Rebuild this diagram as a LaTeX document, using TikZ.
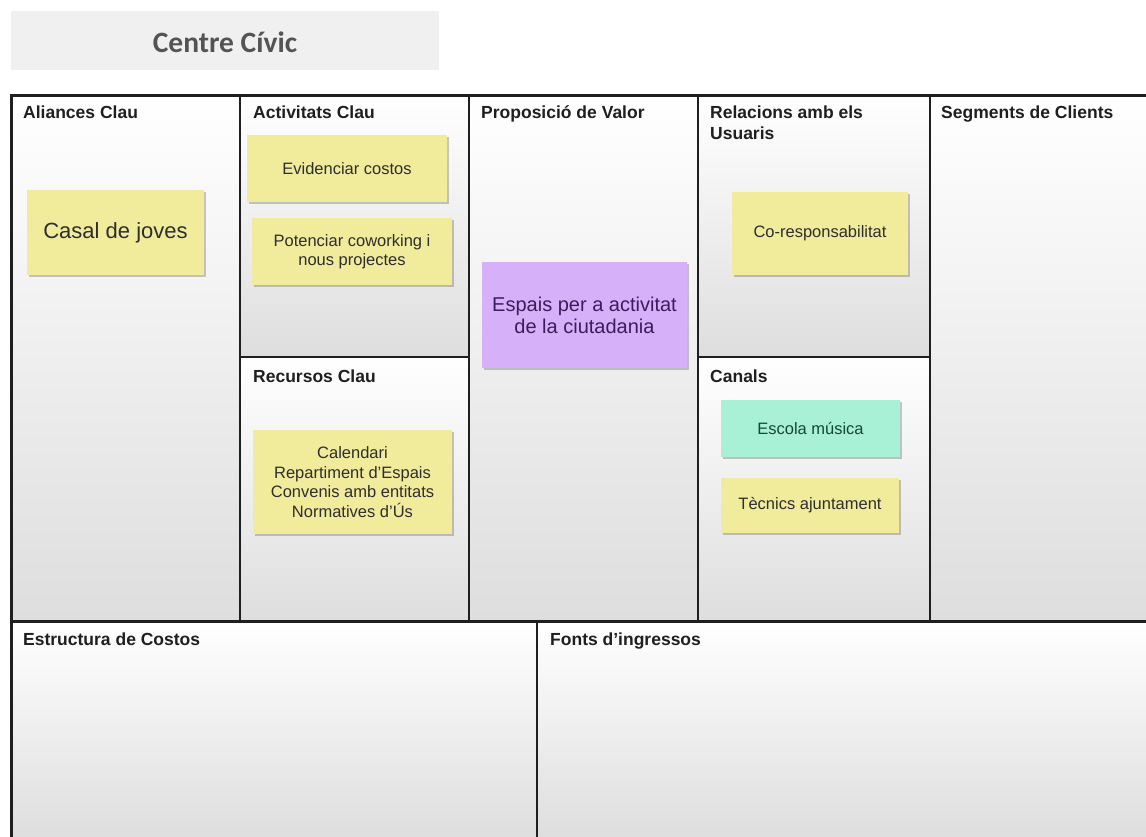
\documentclass[tikz,border=0pt]{standalone}
\usepackage{fontspec}
\setmainfont{Liberation Sans}
\newfontfamily\titlefont{Carlito}
\usetikzlibrary{shadows}

\definecolor{noteyellow}{RGB}{241,235,156}
\definecolor{notepurple}{RGB}{214,177,250}
\definecolor{notemint}{RGB}{168,240,214}
\definecolor{purpletext}{RGB}{62,28,92}
\definecolor{minttext}{RGB}{22,72,52}
\definecolor{titlegray}{RGB}{240,240,240}

\tikzset{
  cell/.style={top color=white, bottom color=black!13},
  frame/.style={draw=black!88, line width=2pt},
  heading/.style={anchor=base west, inner sep=0pt, align=left, text=black!88,
    font=\fontsize{17.5}{21}\selectfont\bfseries},
  note/.style={fill=noteyellow, align=center, inner sep=0pt, text=black!82,
    font=\fontsize{16.5}{19.5}\selectfont,
    drop shadow={shadow xshift=1.5pt, shadow yshift=-2pt, opacity=0.3, fill=black!70}},
}

\begin{document}
\begin{tikzpicture}[x=1pt,y=-1pt]
        \useasboundingbox (0,0) rectangle (1146,837);
        % Title
        \fill[titlegray] (11,11) rectangle (439,70);
        \node[anchor=base, inner sep=0pt, text=black!67, font=\titlefont\bfseries\fontsize{29.5}{32}\selectfont] (title) at (225,53) {Centre Cívic};
        % Cells
        \fill[cell] (11,96) rectangle (240,621);
        \fill[cell] (240,96) rectangle (469,357);
        \fill[cell] (240,357) rectangle (469,621);
        \fill[cell] (469,96) rectangle (698,621);
        \fill[cell] (698,96) rectangle (930,357);
        \fill[cell] (698,357) rectangle (930,621);
        \fill[cell] (930,96) rectangle (1146,621);
        \fill[cell] (11,621) rectangle (537,837);
        \fill[cell] (537,621) rectangle (1146,837);
        % Canvas lines
        \draw[frame, line width=3pt] (11,837) -- (11,96) -- (1146,96);
        \draw[frame, line width=3pt] (11,621) -- (1146,621);
        \draw[frame] (240,96) -- (240,621);
        \draw[frame] (469,96) -- (469,621);
        \draw[frame] (698,96) -- (698,621);
        \draw[frame] (930,96) -- (930,621);
        \draw[frame] (537,621) -- (537,837);
        \draw[frame] (240,357) -- (469,357);
        \draw[frame] (698,357) -- (930,357);
        % Headings
        \node[heading] (aliances) at (23,119) {Aliances Clau};
        \node[heading] (activitats) at (253,119) {Activitats Clau};
        \node[heading] (proposicio) at (481,119) {Proposició de Valor};
        \node[heading] (relacions) at (710,140) {Relacions amb els\\Usuaris};
        \node[heading] (segments) at (941,119) {Segments de Clients};
        \node[heading] (recursos) at (253,382) {Recursos Clau};
        \node[heading] (canals) at (710,382) {Canals};
        \node[heading] (costos) at (23,645) {Estructura de Costos};
        \node[heading] (ingressos) at (550,645) {Fonts d'ingressos};
        % Notes
        \node[note, minimum width=177pt, minimum height=85pt, font=\fontsize{22}{25}\selectfont] (casal) at (115.5,232.5) {Casal de joves};
        \node[note, minimum width=200pt, minimum height=67pt] (evidenciar) at (347,168.5) {Evidenciar costos};
        \node[note, minimum width=200pt, minimum height=67pt] (coworking) at (352,251.5) {Potenciar coworking i\\nous projectes};
        \node[note, fill=notepurple, text=purpletext, minimum width=205pt, minimum height=106pt, font=\fontsize{20}{22}\selectfont] (espais) at (584.5,315) {Espais per a activitat\\de la ciutadania};
        \node[note, minimum width=176pt, minimum height=83pt] (coresp) at (820,233.5) {Co-responsabilitat};
        \node[note, minimum width=199pt, minimum height=104pt] (llista) at (352.5,482) {Calendari\\Repartiment d'Espais\\Convenis amb entitats\\Normatives d'Ús};
        \node[note, fill=notemint, text=minttext, minimum width=179pt, minimum height=57pt] (escola) at (810.5,428.5) {Escola música};
        \node[note, minimum width=178pt, minimum height=55pt] (tecnics) at (810,505.5) {Tècnics ajuntament};
    \end{tikzpicture}
\end{document}
